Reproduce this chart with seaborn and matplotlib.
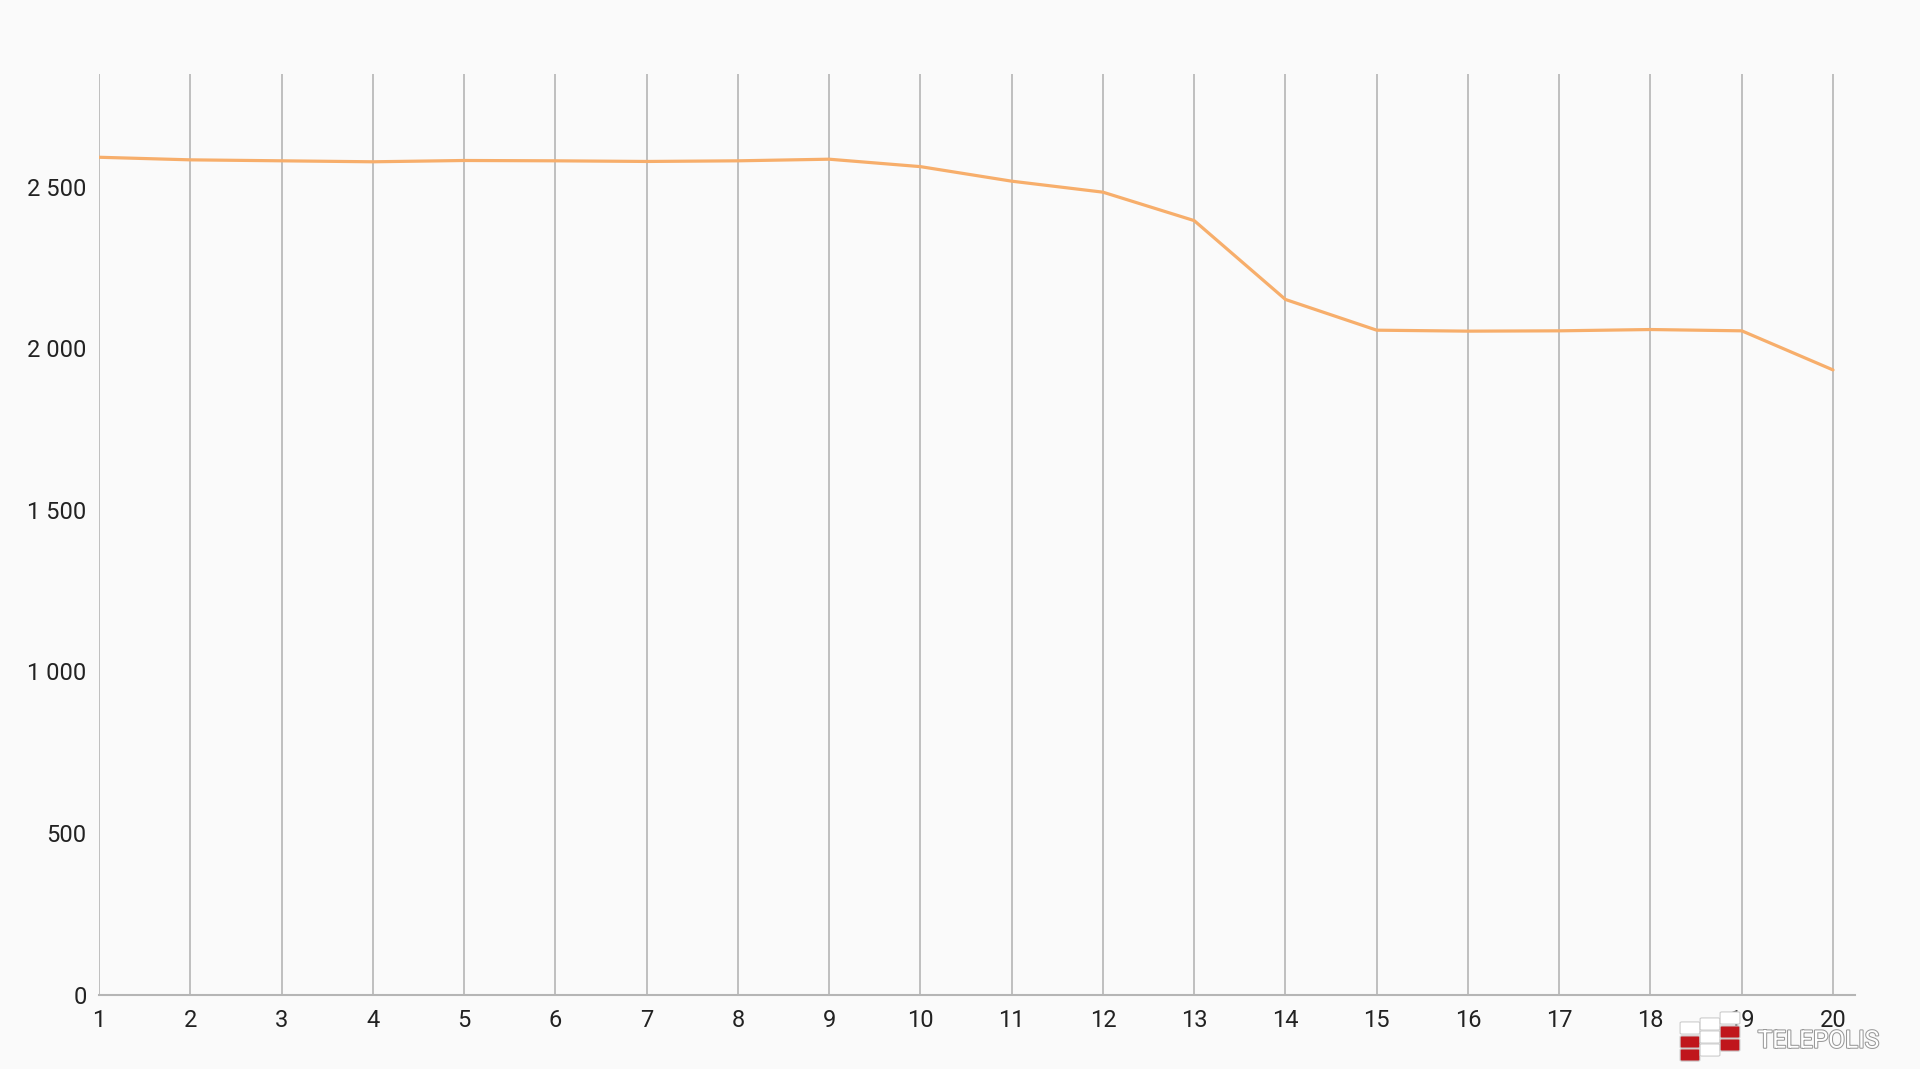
import matplotlib
matplotlib.use("Agg")
import matplotlib.pyplot as plt
import matplotlib.patheffects as pe
from matplotlib.patches import FancyBboxPatch
from matplotlib.ticker import FuncFormatter
import seaborn as sns
import pandas as pd

# values
x_vals = list(range(1, 21))
y_vals = [2591, 2583, 2580, 2577, 2581, 2580, 2578, 2580, 2585, 2562,
          2517, 2483, 2395, 2151, 2056, 2053, 2054, 2058, 2054, 1933]
y_ticks = [0, 500, 1000, 1500, 2000, 2500]

df = pd.DataFrame({"x": x_vals, "y": y_vals})

sns.set_theme(style="white")
plt.rcParams['font.family'] = ['Roboto', 'DejaVu Sans']

fig = plt.figure(figsize=(19.2, 10.69), dpi=100, facecolor="#fafafa")
ax = fig.add_axes([0.0516, 0.0695, 0.9145, 0.8617])
ax.set_facecolor("#fafafa")

sns.lineplot(data=df, x="x", y="y", ax=ax, color="#f7ae6b", linewidth=2.3)

ax.set_xlim(1, 20.24)
ax.set_ylim(0, 2850)
ax.set_xticks(x_vals)
ax.set_yticks(y_ticks)
ax.yaxis.set_major_formatter(FuncFormatter(lambda v, p: f"{int(v):,}".replace(",", " ")))

ax.grid(axis="x", color="#b5b5b5", linewidth=1.2)
ax.grid(axis="y", visible=False)
for s in ["top", "right", "left"]:
    ax.spines[s].set_visible(False)
ax.spines["bottom"].set_color("#b5b5b5")
ax.spines["bottom"].set_linewidth(1.5)
ax.tick_params(axis="both", length=0, labelsize=17, colors="#222222")
ax.tick_params(axis="y", pad=9)
ax.tick_params(axis="x", pad=10)
ax.set_xlabel("")
ax.set_ylabel("")

# watermark logo: small blocks (left, top in pixels) + name
blocks = [(1682, 1023, "white"), (1682, 1037, "#c0161c"), (1682, 1050, "#c0161c"),
          (1702, 1019, "white"), (1702, 1032, "white"), (1702, 1045, "white"),
          (1722, 1013, "white"), (1722, 1027, "#c0161c"), (1722, 1040, "#c0161c")]
bw, bh = 16, 10
for bx, by, bc in blocks:
    fig.add_artist(FancyBboxPatch((bx / 1920, 1 - (by + bh) / 1069), bw / 1920, bh / 1069,
                                  boxstyle="round,pad=0.001", transform=fig.transFigure,
                                  facecolor=bc, edgecolor="#cccccc", linewidth=0.8))
fig.text(0.9155, 0.026, "TELEPOLIS", fontsize=17.5, color="white",
         ha="left", va="center",
         path_effects=[pe.withStroke(linewidth=1.5, foreground="#999999")])

fig.savefig("out.png", dpi=100, facecolor=fig.get_facecolor())
